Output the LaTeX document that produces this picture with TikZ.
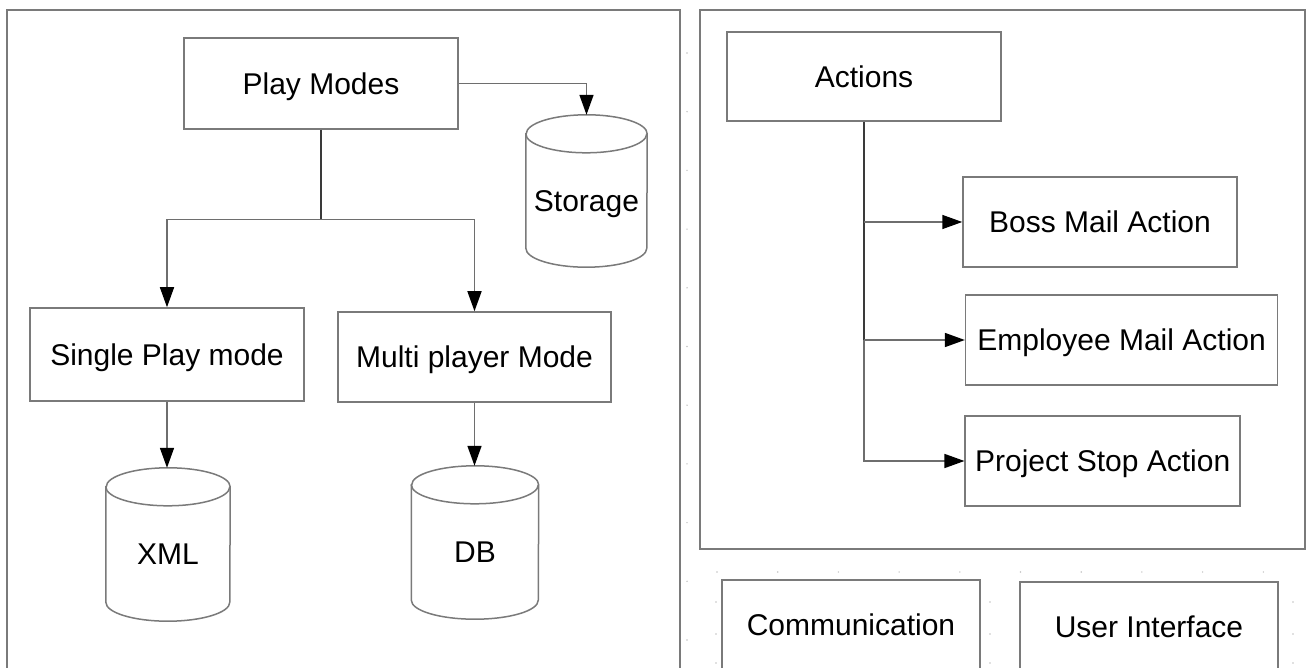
\documentclass[tikz,border=0pt]{standalone}
\usepackage{fontspec}
\setmainfont{Liberation Sans}
\usetikzlibrary{arrows.meta,calc}
\definecolor{boxgray}{HTML}{7A7A7A}
\definecolor{trunkgray}{HTML}{3A3A3A}
\definecolor{linkgray}{HTML}{6E6E6E}
\definecolor{dotgray}{HTML}{C4C4C4}
% outline of a vertical drum spanning node #1, end radius #2 (half width) and #3
\newcommand\drawcyl[3]{%
  \draw[cylline] ($(#1.north west)+(0,#3)$) -- ($(#1.south west)+(0,-#3)$)
    arc[start angle=180, end angle=0, x radius=#2, y radius=#3]
    -- ($(#1.north east)+(0,#3)$)
    arc[start angle=0, end angle=-180, x radius=#2, y radius=#3] -- cycle;
  \draw[cylline, fill=none] ($(#1.north west)+(0,#3)$)
    arc[start angle=180, end angle=0, x radius=#2, y radius=#3];
}
\begin{document}
\begin{tikzpicture}[x=1pt,y=-1pt,
  txt/.style={font=\fontsize{30}{36}\selectfont, text height=21.5pt, text depth=0pt},
  box/.style={txt, rectangle, draw=boxgray, line width=1.5pt, fill=white, inner sep=0pt},
  frame/.style={draw=boxgray, line width=1.6pt, fill=white},
  store/.style={rectangle, inner sep=0pt},
  cylline/.style={draw=boxgray, line width=1.5pt, fill=white},
  storetext/.style={txt, inner sep=0pt},
  trunk/.style={draw=trunkgray, line width=2pt},
  link/.style={draw=linkgray, line width=1.5pt},
  tip/.style={-{Triangle[length=20pt,width=14pt,color=black]}},
  griddot/.style={fill=dotgray}
]
% page
\fill[white] (0,0) rectangle (1310,668);
\useasboundingbox (0,0) rectangle (1310,668);
\clip (0,0) rectangle (1310,668);

% editor grid dots in the open areas
\foreach \k in {0,...,10} \fill[griddot] (687,53+58.7*\k) circle (0.8pt);
\foreach \k in {0,...,9} \fill[griddot] (717+60.7*\k,572) circle (0.8pt);
\foreach \gx in {716,990,1293}
  \foreach \gy in {602,634,663} \fill[griddot] (\gx,\gy) circle (0.8pt);

% containers
\draw[frame] (7,10) rectangle (680,700);
\draw[frame] (700,10) rectangle (1305,549);

% ---- play modes ----
\node[box, minimum width=274pt, minimum height=91pt] (pm) at (321,83.5) {Play Modes};
\node[box, minimum width=274pt, minimum height=93pt] (single) at (167,354.5) {Single Play mode};
\node[box, minimum width=273pt, minimum height=90pt] (multi) at (474.5,357) {Multi player Mode};

\node[store, minimum width=121pt, minimum height=152pt] (storage) at (586.5,191) {};
\drawcyl{storage}{60.5}{19}
\node[storetext] (storagelbl) at (586.5,201) {Storage};
\node[store, minimum width=124pt, minimum height=153pt] (xml) at (168,544.5) {};
\drawcyl{xml}{62}{19}
\node[storetext] (xmllbl) at (168,554) {XML};
\node[store, minimum width=127pt, minimum height=153pt] (db) at (475,542.5) {};
\drawcyl{db}{63.5}{19}
\node[storetext] (dblbl) at (475,552) {DB};

\coordinate (pmsplit) at ($(pm.south)+(0,90)$);
\draw[trunk] (pm.south) -- (pmsplit);
\draw[link, tip] (pmsplit) -| (single.north);
\draw[link, tip] (pmsplit) -| (multi.north);
\draw[link, tip] (pm.east) -| (storage.north);
\draw[link, tip] (single.south) -- (single.south |- xml.north);
\draw[link, tip] (multi.south) -- (multi.south |- db.north);

% ---- actions ----
\node[box, minimum width=274pt, minimum height=89pt] (act) at (864,76.5) {Actions};
\node[box, minimum width=274pt, minimum height=90pt] (boss) at (1100,222) {Boss Mail Action};
\node[box, minimum width=312pt, minimum height=90pt] (emp) at (1121.6,340) {Employee Mail Action};
\node[box, minimum width=275pt, minimum height=90pt] (proj) at (1102.7,461) {Project Stop Action};

\draw[trunk] (act.south) -- (act.south |- emp.west);
\draw[link, tip] (act.south |- boss.west) -- (boss.west);
\draw[link, tip] (act.south |- emp.west) -- (emp.west);
\draw[link, tip] (act.south |- emp.west) |- (proj.west);

% ---- other modules ----
\node[box, minimum width=258pt, minimum height=90pt] (comm) at (851,625) {Communication};
\node[box, minimum width=258pt, minimum height=90pt] (ui) at (1149,627) {User Interface};
\end{tikzpicture}
\end{document}
